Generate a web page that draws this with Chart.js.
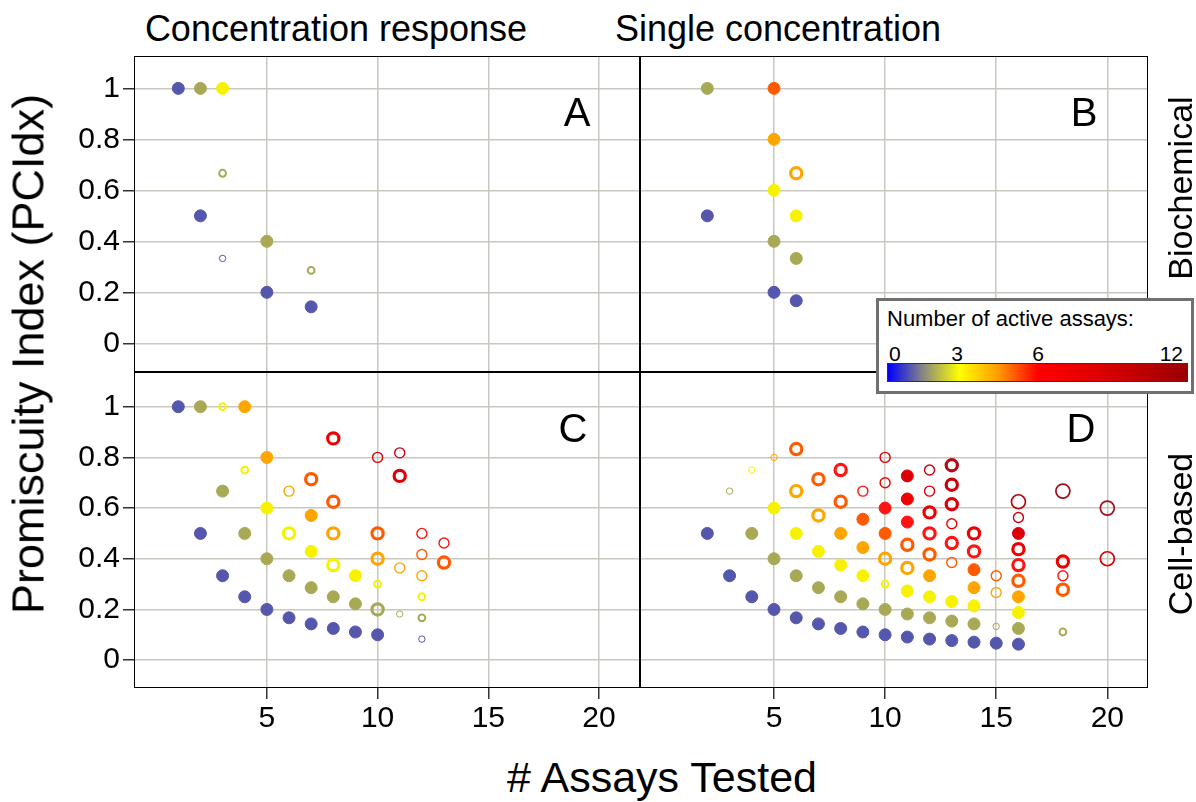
<!DOCTYPE html>
<html>
<head>
<meta charset="utf-8">
<title>Promiscuity index by assays tested</title>
<script src="https://cdn.jsdelivr.net/npm/chart.js@4.4.1/dist/chart.umd.min.js"></script>
<style>
  body { margin: 0; background: #fff; font-family: "Liberation Sans", Arial, sans-serif; }
  #wrap { position: relative; width: 1196px; height: 802px; overflow: hidden; }
  canvas { position: absolute; }
  .lbl { position: absolute; white-space: nowrap; color: #000; line-height: 1; }
  .frame { position: absolute; border: 1.5px solid #000; box-sizing: border-box; pointer-events: none; }
  #legend { position: absolute; left: 876px; top: 298px; width: 318px; height: 96px; box-sizing: border-box;
            border: 3px solid #707070; background: #fff; z-index: 5; }
  #legend .bar { position: absolute; left: 8px; top: 62px; width: 301px; height: 19px; box-sizing: border-box;
                 border: 1px solid #333;
                 background: linear-gradient(to right, #0000ff 0%, #8a8a80 12%, #ffff00 24%, #ff9a00 37%, #ff0000 50%, #e00000 70%, #9a0000 100%); }
</style>
</head>
<body>
<div id="wrap">
  <canvas id="panelA" width="600" height="316" style="left:40px; top:56px;"></canvas>
  <canvas id="panelB" width="508" height="316" style="left:640px; top:56px;"></canvas>
  <canvas id="panelC" width="600" height="376" style="left:40px; top:372px;"></canvas>
  <canvas id="panelD" width="508" height="376" style="left:640px; top:372px;"></canvas>

  <div class="frame" style="left:134px; top:56px; width:506px; height:316px;"></div>
  <div class="frame" style="left:640px; top:56px; width:508px; height:316px;"></div>
  <div class="frame" style="left:134px; top:372px; width:506px; height:316px;"></div>
  <div class="frame" style="left:640px; top:372px; width:508px; height:316px;"></div>

  <div class="lbl" style="left:336px; top:29px; font-size:36px; transform:translate(-50%,-50%);">Concentration response</div>
  <div class="lbl" style="left:778px; top:29px; font-size:36px; transform:translate(-50%,-50%);">Single concentration</div>
  <div class="lbl" style="left:1180px; top:188px; font-size:34px; transform:translate(-50%,-50%) rotate(-90deg);">Biochemical</div>
  <div class="lbl" style="left:1180px; top:534px; font-size:34px; transform:translate(-50%,-50%) rotate(-90deg);">Cell-based</div>
  <div class="lbl" style="left:28px; top:354px; font-size:45px; transform:translate(-50%,-50%) rotate(-90deg);">Promiscuity Index (PCIdx)</div>
  <div class="lbl" style="left:662px; top:777px; font-size:43px; transform:translate(-50%,-50%);"># Assays Tested</div>

  <div class="lbl" style="left:577px; top:112px; font-size:40px; transform:translate(-50%,-50%);">A</div>
  <div class="lbl" style="left:1084px; top:112px; font-size:40px; transform:translate(-50%,-50%);">B</div>
  <div class="lbl" style="left:573px; top:428px; font-size:40px; transform:translate(-50%,-50%);">C</div>
  <div class="lbl" style="left:1081px; top:428px; font-size:40px; transform:translate(-50%,-50%);">D</div>

  <div id="legend">
    <div class="lbl" style="left:8px; top:7px; font-size:22px;">Number of active assays:</div>
    <div class="lbl" style="left:10px; top:42px; font-size:21px;">0</div>
    <div class="lbl" style="left:78px; top:42px; font-size:21px; transform:translateX(-50%);">3</div>
    <div class="lbl" style="left:159px; top:42px; font-size:21px; transform:translateX(-50%);">6</div>
    <div class="lbl" style="right:8px; top:42px; font-size:21px;">12</div>
    <div class="bar"></div>
  </div>
</div>

<script>
// tick positions
const xTicks = [5, 10, 15, 20];
const yTicks = [0, 0.2, 0.4, 0.6, 0.8, 1];

// A - concentration response, biochemical
const aTested = [1, 2, 3, 3, 2, 3, 5, 7, 5, 7];
const aPcidx  = [1, 1, 1, 0.667, 0.5, 0.333, 0.4, 0.286, 0.2, 0.143];
const aActive = [1, 2, 3, 2, 1, 1, 2, 2, 1, 1];
const aMark   = [6, 6, 6, 2, 6, 1, 6, 2, 6, 6];

// B - single concentration, biochemical
const bTested = [2, 5, 5, 6, 5, 2, 6, 5, 6, 5, 6];
const bPcidx  = [1, 1, 0.8, 0.667, 0.6, 0.5, 0.5, 0.4, 0.333, 0.2, 0.167];
const bActive = [2, 5, 4, 4, 3, 1, 3, 2, 2, 1, 1];
const bMark   = [6, 6, 6, 5, 6, 6, 6, 6, 6, 6, 6];

// C - concentration response, cell-based
const cTested = [1, 2, 3, 4, 8, 5, 10, 11, 4, 7, 11, 3, 6, 8, 5, 7, 2, 4, 6, 8, 10, 12, 13, 7, 12,
                 5, 10, 13, 8, 11, 3, 6, 9, 12, 10, 7, 4, 8, 12, 9, 5, 10, 11, 12, 6, 7, 8, 9, 10, 12];
const cPcidx  = [1, 1, 1, 1, 0.875, 0.8, 0.8, 0.818, 0.75, 0.714, 0.727, 0.667, 0.667, 0.625, 0.6, 0.571,
                 0.5, 0.5, 0.5, 0.5, 0.5, 0.5, 0.462, 0.429, 0.417, 0.4, 0.4, 0.385, 0.375, 0.364,
                 0.333, 0.333, 0.333, 0.333, 0.3, 0.286, 0.25, 0.25, 0.25, 0.222, 0.2, 0.2, 0.182, 0.167,
                 0.167, 0.143, 0.125, 0.111, 0.1, 0.083];
const cActive = [1, 2, 3, 4, 7, 4, 8, 9, 3, 5, 8, 2, 4, 5, 3, 4, 1, 2, 3, 4, 5, 6, 6, 3, 5,
                 2, 4, 5, 3, 4, 1, 2, 3, 4, 3, 2, 1, 2, 3, 2, 1, 2, 2, 2, 1, 1, 1, 1, 1, 1];
const cMark   = [6, 6, 2, 6, 5, 6, 3, 3, 2, 5, 5, 6, 3, 5, 6, 6, 6, 6, 5, 5, 5, 3, 3, 6, 3,
                 6, 5, 5, 5, 3, 6, 6, 6, 3, 2, 6, 6, 6, 2, 6, 6, 5, 1, 2, 6, 6, 6, 6, 6, 1];

// D - single concentration, cell-based
const dTested = [6, 5, 4, 3, 6, 7, 8, 10, 10, 9, 8, 11, 12, 13, 13, 12, 11, 13, 10, 12, 7, 5, 9, 11, 13,
                 2, 4, 6, 8, 10, 12, 14, 16, 16, 16, 18, 20, 20, 7, 9, 11, 13, 14, 16, 12, 5, 10, 13,
                 16, 18, 18, 18, 8, 11, 14, 15, 16, 3, 6, 9, 12, 10, 15, 14, 16, 7, 4, 8, 11, 12, 13,
                 14, 16, 9, 5, 10, 11, 12, 13, 14, 15, 16, 18, 6, 7, 8, 9, 10, 11, 12, 13, 14, 15, 16];
const dPcidx  = [0.833, 0.8, 0.75, 0.667, 0.667, 0.714, 0.75, 0.8, 0.7, 0.667, 0.625, 0.727, 0.75, 0.769,
                 0.692, 0.667, 0.636, 0.615, 0.6, 0.583, 0.571, 0.6, 0.556, 0.545, 0.538,
                 0.5, 0.5, 0.5, 0.5, 0.5, 0.5, 0.5, 0.5, 0.563, 0.625, 0.667, 0.6, 0.4, 0.429, 0.444,
                 0.455, 0.462, 0.429, 0.438, 0.417, 0.4, 0.4, 0.385, 0.375, 0.389, 0.333, 0.278,
                 0.375, 0.364, 0.357, 0.333, 0.313, 0.333, 0.333, 0.333, 0.333, 0.3, 0.267, 0.286,
                 0.25, 0.286, 0.25, 0.25, 0.273, 0.25, 0.231, 0.214, 0.188, 0.222, 0.2, 0.2, 0.182,
                 0.167, 0.154, 0.143, 0.133, 0.125, 0.111, 0.167, 0.143, 0.125, 0.111, 0.1, 0.091,
                 0.083, 0.077, 0.071, 0.067, 0.063];
const dActive = [5, 4, 3, 2, 4, 5, 6, 8, 7, 6, 5, 8, 9, 10, 9, 8, 7, 8, 6, 7, 4, 3, 5, 6, 7,
                 1, 2, 3, 4, 5, 6, 7, 8, 9, 10, 12, 12, 8, 3, 4, 5, 6, 6, 7, 5, 2, 4, 5,
                 6, 7, 6, 5, 3, 4, 5, 5, 5, 1, 2, 3, 4, 3, 4, 4, 4, 2, 1, 2, 3, 3, 3,
                 3, 3, 2, 1, 2, 2, 2, 2, 2, 2, 2, 2, 1, 1, 1, 1, 1, 1, 1, 1, 1, 1, 1];
const dMark   = [5, 1, 1, 1, 5, 5, 5, 3, 3, 3, 5, 6, 3, 5, 5, 3, 6, 5, 6, 5, 5, 6, 6, 6, 3,
                 6, 6, 6, 6, 6, 5, 5, 6, 3, 4, 4, 4, 4, 6, 6, 5, 5, 5, 5, 5, 6, 5, 3,
                 5, 5, 3, 5, 6, 5, 6, 3, 5, 6, 6, 6, 6, 2, 3, 6, 6, 6, 6, 6, 6, 6, 6,
                 6, 6, 6, 6, 6, 6, 6, 6, 6, 1, 6, 2, 6, 6, 6, 6, 6, 6, 6, 6, 6, 6, 6];

// colour for number of active assays (0..12)
const activeColors = ["#0000ff", "#5557ad", "#a8a955", "#f6f200", "#ffa500", "#ff5a00", "#ff1414",
                      "#ee0000", "#dc0008", "#c8000e", "#b50a14", "#a80c18", "#9e101c"];
// marker kinds: 1 small ring, 2 small thick ring, 3 ring, 4 large ring, 5 thick ring, 6 filled
const markR = [0, 3.2, 3.4, 5, 7, 5.6, 6];
const markW = [0, 1, 2, 1.4, 1.7, 3.2, 1];

function makePanel(id, tested, pcidx, active, mark, showY, showX, xMin, xMax, yMin, yMax) {
  const pts = tested.map((t, i) => ({ x: t, y: pcidx[i], a: active[i], m: mark[i] }));
  const tickFont = { family: "Liberation Sans", size: 30 };

  return new Chart(document.getElementById(id), {
    type: "scatter",
    data: {
      datasets: [{
        data: pts,
        pointStyle: "circle",
        pointRadius: (c) => (c.raw ? markR[c.raw.m] : 4),
        pointBorderWidth: (c) => (c.raw ? markW[c.raw.m] : 1),
        pointBorderColor: (c) => (c.raw ? activeColors[c.raw.a] : "#000"),
        pointBackgroundColor: (c) => (c.raw && c.raw.m === 6 ? activeColors[c.raw.a] : "rgba(0,0,0,0)"),
      }],
    },
    options: {
      responsive: false,
      animation: false,
      devicePixelRatio: 1,
      events: [],
      layout: { padding: 0, autoPadding: false },
      plugins: { legend: { display: false }, tooltip: { enabled: false } },
      scales: {
        x: {
          type: "linear",
          min: xMin,
          max: xMax,
          afterBuildTicks: (s) => { s.ticks = xTicks.map((v) => ({ value: v })); },
          afterFit: (s) => {
            s.height = showX ? 60 : 0;
            s.paddingLeft = 0;
            s.paddingRight = 0;
          },
          border: { display: false },
          grid: { color: "#c8c8c0", lineWidth: 1.5, drawTicks: showX, tickLength: 11, tickColor: "#333", tickWidth: 1.5 },
          ticks: { display: showX, color: "#000", font: tickFont, padding: 2, maxRotation: 0, callback: (v) => String(v) },
        },
        y: {
          type: "linear",
          min: yMin,
          max: yMax,
          afterBuildTicks: (s) => { s.ticks = yTicks.map((v) => ({ value: v })); },
          afterFit: (s) => {
            s.width = showY ? 94 : 0;
            s.paddingTop = 0;
            s.paddingBottom = 0;
          },
          border: { display: false },
          grid: { color: "#c8c8c0", lineWidth: 1.5, drawTicks: showY, tickLength: 11, tickColor: "#333", tickWidth: 1.5 },
          ticks: { display: showY, color: "#000", font: tickFont, padding: 3, callback: (v) => String(v) },
        },
      },
    },
  });
}

makePanel("panelA", aTested, aPcidx, aActive, aMark, true, false, -1, 21.85, -0.1125, 1.127);
makePanel("panelB", bTested, bPcidx, bActive, bMark, false, false, -1.03, 21.83, -0.1125, 1.127);
makePanel("panelC", cTested, cPcidx, cActive, cMark, true, true, -1, 21.85, -0.11, 1.137);
makePanel("panelD", dTested, dPcidx, dActive, dMark, false, true, -1.03, 21.83, -0.11, 1.137);
</script>
</body>
</html>
